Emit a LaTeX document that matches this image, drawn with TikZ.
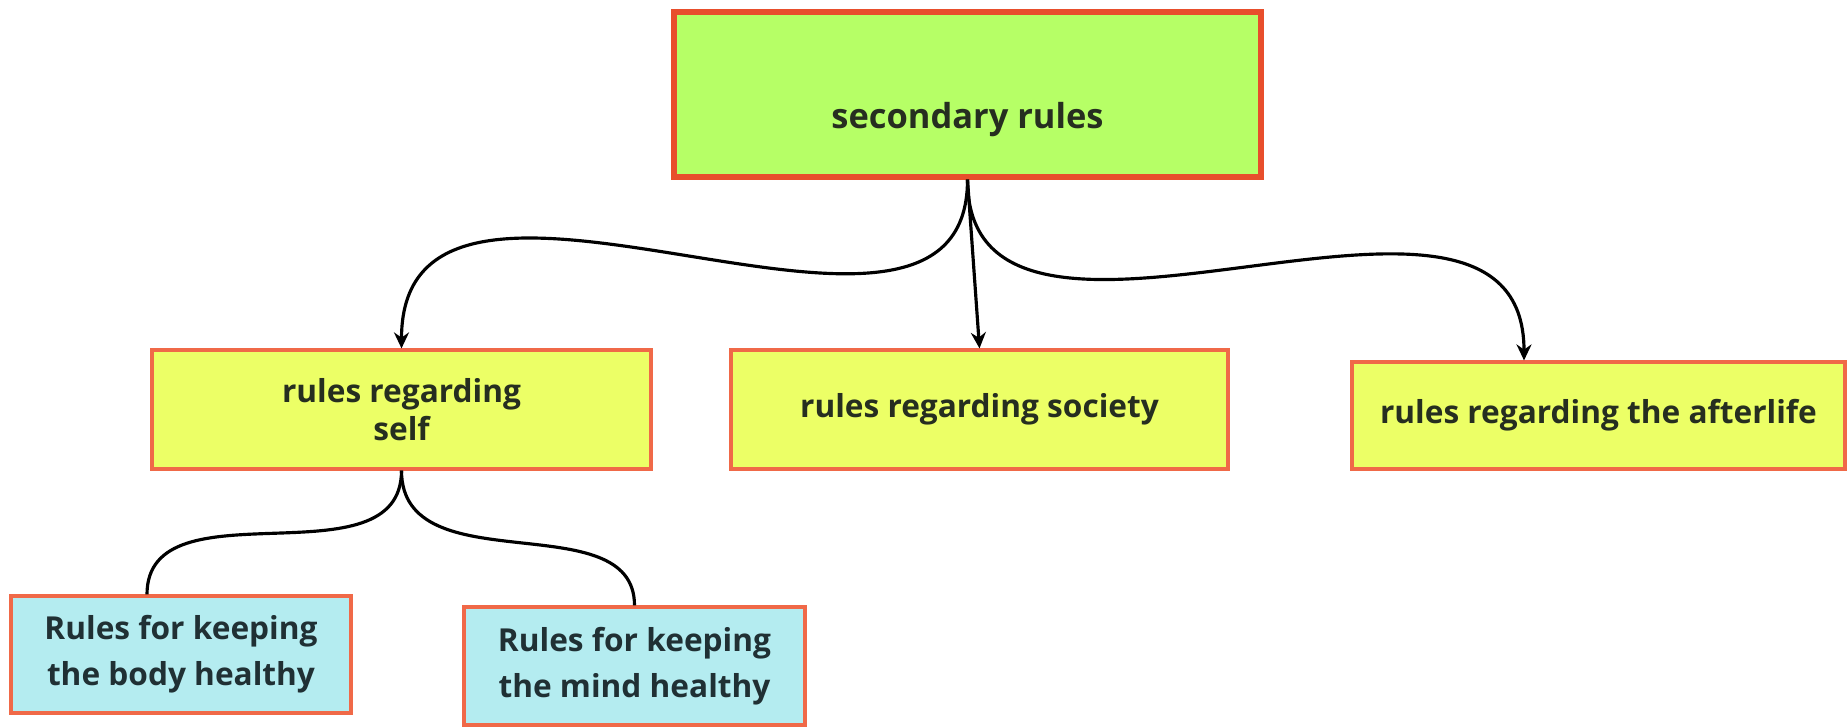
\documentclass[tikz,border=0pt]{standalone}
\usepackage{fontspec}
\setmainfont{Open Sans}
\usepackage{tikz}
\usetikzlibrary{positioning,calc}
\usetikzlibrary{arrows.meta}
\definecolor{RuleRed}{RGB}{232,78,44}
\definecolor{EdgeRed}{RGB}{240,105,72}
\definecolor{LimeGreen}{RGB}{182,255,102}
\definecolor{PaleYellow}{RGB}{236,255,102}
\definecolor{PaleCyan}{RGB}{180,236,240}
\definecolor{InkGreen}{RGB}{38,46,32}
\definecolor{InkSlate}{RGB}{32,48,52}
\tikzset{
  mainrule/.style={draw=RuleRed,fill=LimeGreen,line width=1.5pt,inner sep=0pt,
    minimum width=5.87cm,minimum height=1.65cm,text=InkGreen,
    font=\fontsize{9.8}{12}\selectfont\bfseries,text height=0.78cm,text depth=0.10cm},
  area/.style={draw=EdgeRed,fill=PaleYellow,line width=0.9pt,inner sep=0pt,
    minimum height=1.19cm,align=center,text=InkGreen,
    font=\fontsize{9}{11}\selectfont\bfseries},
  health/.style={draw=EdgeRed,fill=PaleCyan,line width=0.9pt,inner sep=0pt,
    minimum width=3.40cm,minimum height=1.17cm,align=center,text=InkSlate,
    font=\fontsize{9}{13}\selectfont\bfseries},
  link/.style={draw=black,line width=0.9pt},
  arrow/.style={link,-{Stealth[length=1.6mm,width=1.5mm]}},
}
\begin{document}
\begin{tikzpicture}[scale=1]
\useasboundingbox (0,0) rectangle (18.48,-7.27);
\node[mainrule] (secondary) at (9.675,-0.945) {secondary rules};
\node[area,minimum width=4.99cm] (self) at (4.015,-4.095) {rules regarding\\self};
\node[area,minimum width=4.97cm] (society) at (9.795,-4.095) {rules regarding society};
\node[area,minimum width=4.93cm,minimum height=1.07cm] (after) at (15.985,-4.155) {rules regarding the afterlife};
\node[health] (body) at (1.81,-6.545) {Rules for keeping\\the body healthy};
\node[health,minimum width=3.41cm,minimum height=1.18cm] (mind) at (6.345,-6.66) {Rules for keeping\\the mind healthy};
\draw[arrow] (secondary.south) .. controls +(0,-2.45) and +(0,2.65) .. (self.north);
\draw[arrow] (secondary.south) -- (society.north);
\draw[arrow] (secondary.south) .. controls +(0,-2.45) and +(0,2.5) .. ([xshift=-0.745cm]after.north);
\draw[link] (self.south) .. controls +(0,-1.16) and +(0,1.14) .. ([xshift=-0.34cm]body.north);
\draw[link] (self.south) .. controls +(0,-1.15) and +(0,1.03) .. (mind.north);
\end{tikzpicture}
\end{document}
